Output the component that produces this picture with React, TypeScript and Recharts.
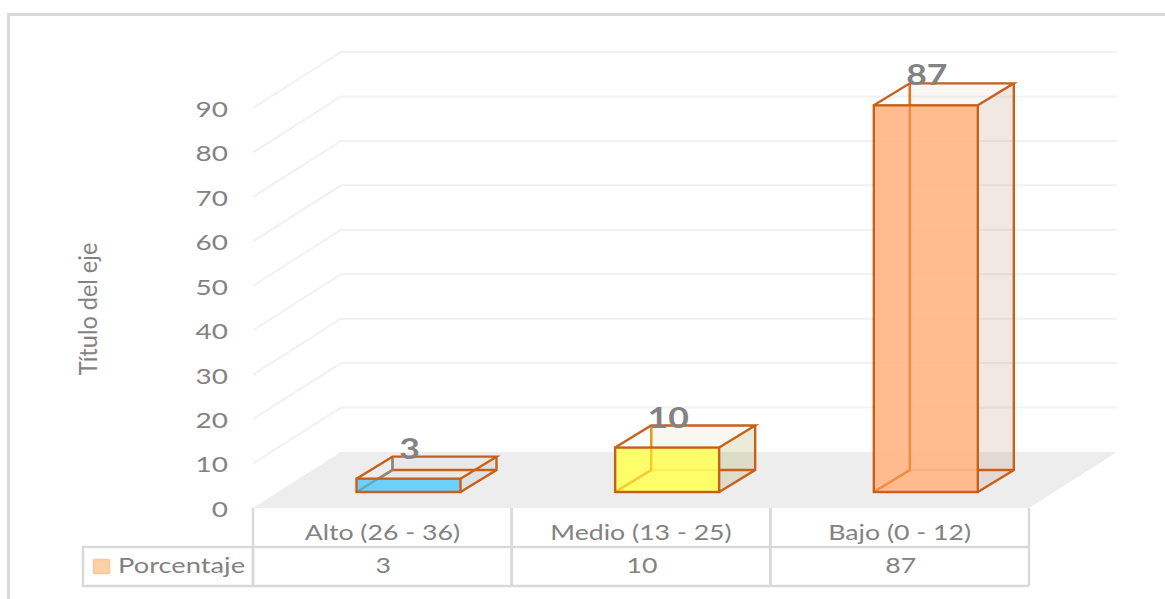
import React from "react";
import { BarChart, Bar, XAxis, YAxis, CartesianGrid, LabelList } from "recharts";

const categories = ["Alto (26 - 36)", "Medio (13 - 25)", "Bajo (0 - 12)"];
const porcentaje = [3, 10, 87];
const yTicks = [0, 10, 20, 30, 40, 50, 60, 70, 80, 90];
const seriesName = "Porcentaje";
const axisTitle = "Título del eje";
const rows = categories.map((name, i) => ({ name, value: porcentaje[i] }));

const FRONT = ["#62CDFB", "#FFFF5E", "#FFB785"];
const SIDE = ["#9FB8C8", "#9B9B3C", "#BE9173"];
const EDGE = "#C8601A";
const INNER = ["#6C9AAC", "#F4B81A", "#EE7C2C"];
const TEXT = "#828282";
const LINE = "#d9d9d9";
const FONT = "Lato, sans-serif";

const W = 1165, H = 599;
const PLOT = { left: 253, right: 1029, top: 108, bottom: 508 };
const WALL = { dx: 88, dy: -56 };
const BOX = { dx: 26.5, dy: -16, depthX: 36, depthY: -22 };
const BAND = (PLOT.right - PLOT.left) / categories.length;
const STRETCH = 1.27;

function StretchedText({ x, y, size, weight, anchor, fill, children }: any) {
  return (
    <g transform={`translate(${x},${y}) scale(${STRETCH},1)`}>
      <text x={0} y={0} dy="0.36em" textAnchor={anchor || "middle"} fontFamily={FONT} fontSize={size} fontWeight={weight || 400} fill={fill || TEXT}>
        {children}
      </text>
    </g>
  );
}

function GridLine(props: any) {
  const { x1, x2, y1, y, height, index } = props;
  const isFloor = y1 >= y + height - 1;
  if (isFloor) {
    const pts = [[x1, y1], [x1 + WALL.dx, y1 + WALL.dy], [x2 + WALL.dx, y1 + WALL.dy], [x2, y1]];
    return <polygon key={`g${index}`} points={pts.map((p) => p.join(",")).join(" ")} fill="#ededed" />;
  }
  const pts = [[x1, y1], [x1 + WALL.dx, y1 + WALL.dy], [x2 + WALL.dx, y1 + WALL.dy]];
  return <polyline key={`g${index}`} points={pts.map((p) => p.join(",")).join(" ")} fill="none" stroke="#f1f1f1" strokeWidth={2} />;
}

function Box(props: any) {
  const { x, y, width, height, index } = props;
  const l = x + BOX.dx, r = l + width, t = y + BOX.dy, b = t + height;
  const dx = BOX.depthX, dy = BOX.depthY;
  const poly = (p: number[][]) => p.map((q) => q.join(",")).join(" ");
  const side = SIDE[index];
  const sw = 2.4;
  return (
    <g>
      <polygon points={poly([[l + dx, t + dy], [r + dx, t + dy], [r + dx, b + dy], [l + dx, b + dy]])} fill={side} fillOpacity={0.07} />
      <polygon points={poly([[r, t], [r + dx, t + dy], [r + dx, b + dy], [r, b]])} fill={side} fillOpacity={0.14} />
      <polygon points={poly([[l, b], [r, b], [r + dx, b + dy], [l + dx, b + dy]])} fill={side} fillOpacity={0.05} />
      <polyline points={poly([[l, b], [l + dx, b + dy], [r + dx, b + dy]])} fill="none" stroke={EDGE} strokeWidth={sw} />
      <line x1={l + dx} y1={t + dy} x2={l + dx} y2={b + dy} stroke={EDGE} strokeWidth={sw} />
      <rect x={l} y={t} width={width} height={height} fill={FRONT[index]} fillOpacity={0.92} />
      <polyline points={poly([[l, b], [l + dx, b + dy], [l + dx, t + dy]])} fill="none" stroke={INNER[index]} strokeWidth={sw} strokeOpacity={0.7} />
      <polyline points={poly([[l, t], [l + dx, t + dy], [r + dx, t + dy], [r, t]])} fill="none" stroke={EDGE} strokeWidth={sw} />
      <polyline points={poly([[r + dx, t + dy], [r + dx, b + dy], [r, b]])} fill="none" stroke={EDGE} strokeWidth={sw} />
      <rect x={l} y={t} width={width} height={height} fill="none" stroke={EDGE} strokeWidth={sw} />
    </g>
  );
}

function BarValue(props: any) {
  const { x, y, width, value } = props;
  return (
    <StretchedText x={x + width / 2 + BOX.dx + 1} y={y + BOX.dy - 30} size={28} weight={700}>
      {value}
    </StretchedText>
  );
}

function YTick(props: any) {
  const { payload, y } = props;
  return (
    <StretchedText x={PLOT.left - 25} y={y + 1} size={22} anchor="end">
      {payload.value}
    </StretchedText>
  );
}

function TableTick(props: any) {
  const { x, payload, index } = props;
  const left = x - BAND / 2, right = x + BAND / 2;
  const top = PLOT.bottom, mid = top + 39, bot = top + 78;
  const first = left - 170;
  return (
    <g>
      <line x1={left} y1={top} x2={left} y2={bot} stroke={LINE} strokeWidth={2.5} />
      <line x1={right} y1={top} x2={right} y2={bot} stroke={LINE} strokeWidth={2.5} />
      <line x1={left} y1={mid} x2={right} y2={mid} stroke={LINE} strokeWidth={2.5} />
      <line x1={left} y1={bot} x2={right} y2={bot} stroke={LINE} strokeWidth={2.5} />
      <StretchedText x={x} y={top + 24} size={21}>{payload.value}</StretchedText>
      <StretchedText x={x + 1} y={mid + 18} size={21}>{porcentaje[index]}</StretchedText>
      {index === 0 && (
        <g>
          <rect x={first} y={mid} width={170} height={39} fill="none" stroke={LINE} strokeWidth={2.5} />
          <rect x={first + 10.5} y={mid + 12.5} width={16} height={14} rx={1} fill="#ffcfa5" stroke="#ffc596" strokeWidth={1.5} />
          <StretchedText x={first + 35} y={mid + 18} size={21.5} anchor="start">{seriesName}</StretchedText>
        </g>
      )}
    </g>
  );
}

function TitleLabel() {
  return (
    <g transform="translate(88,309) rotate(-90) scale(1,1.1)">
      <text x={0} y={0} dy="0.36em" textAnchor="middle" fontFamily={FONT} fontSize={23.5} fill={TEXT}>
        {axisTitle}
      </text>
    </g>
  );
}

export default function App() {
  return (
    <div style={{ position: "absolute", left: 0, top: 0, width: W, height: H, overflow: "hidden", background: "#fff" }}>
      <div style={{ position: "absolute", left: 7, top: 13, width: W, height: H, borderLeft: `3px solid ${LINE}`, borderTop: `3px solid ${LINE}` }} />
      <div style={{ position: "absolute", left: 0, top: 0 }}>
        <BarChart
          width={W}
          height={H}
          data={rows}
          barSize={104}
          margin={{ top: PLOT.top, bottom: 0, left: PLOT.left - 25, right: W - PLOT.right }}
        >
          <CartesianGrid vertical={false} horizontal={GridLine as any} />
          <XAxis dataKey="name" height={H - PLOT.bottom} axisLine={false} tickLine={false} interval={0} tick={TableTick as any} />
          <YAxis
            width={25}
            domain={[0, 90]}
            ticks={yTicks}
            axisLine={false}
            tickLine={false}
            tickMargin={0}
            tickSize={0}
            tick={YTick as any}
            label={{ content: TitleLabel as any }}
          />
          <Bar dataKey="value" name={seriesName} shape={Box as any} isAnimationActive={false}>
            <LabelList dataKey="value" content={BarValue as any} />
          </Bar>
        </BarChart>
      </div>
    </div>
  );
}
